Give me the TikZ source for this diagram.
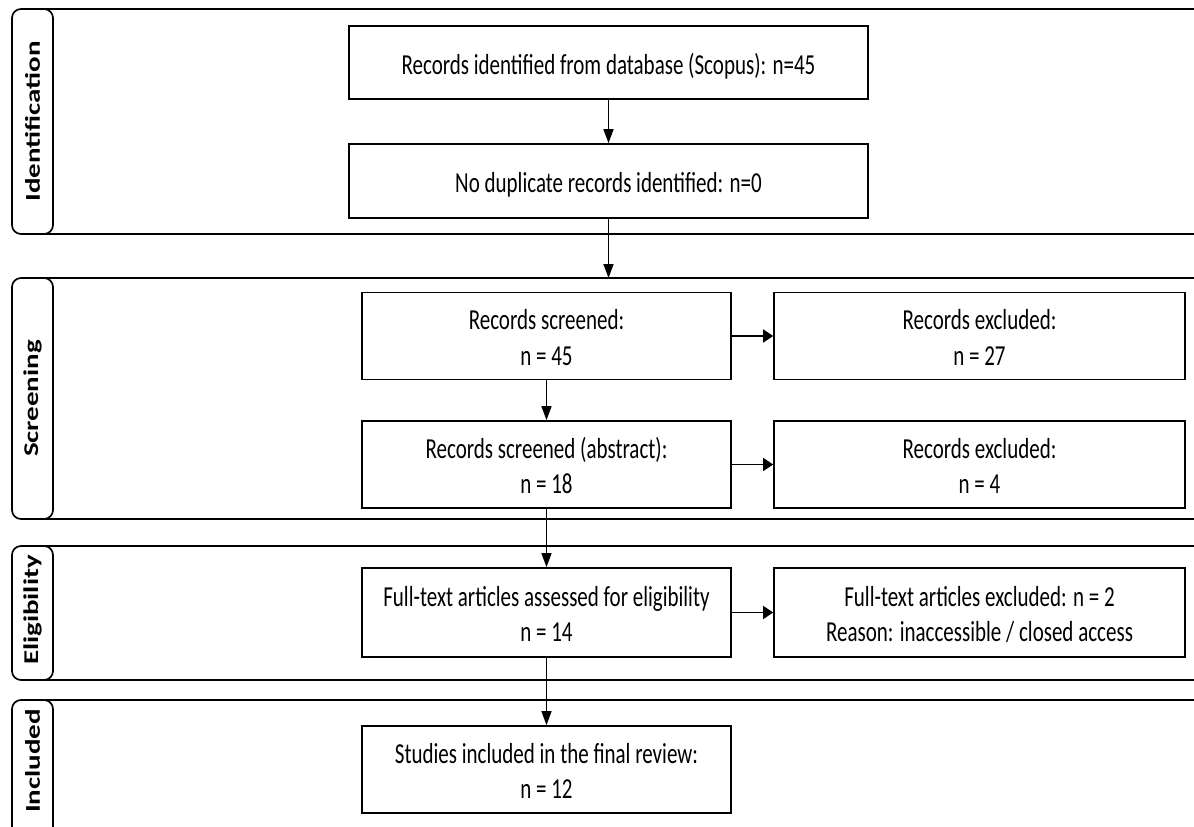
\documentclass[tikz,border=0pt]{standalone}
\usepackage{fontspec}
\usepackage{graphicx}
\setmainfont{Carlito}
\usetikzlibrary{arrows.meta}

\newcommand{\tall}[1]{\scalebox{1}[1.38]{\raisebox{-3.3pt}[\height][\depth]{\begin{tabular}{@{}c@{}}#1\end{tabular}}}}
\newcommand{\tabtext}[1]{\scalebox{1.38}[1]{\bfseries #1}}

\begin{document}
\begin{tikzpicture}[x=1pt, y=-1pt,
    box/.style={draw, line width=1.7pt, inner sep=0pt, font={\fontsize{21}{25.6}\selectfont}},
    wide/.style={box, minimum width=519pt},
    mid/.style={box, minimum width=369pt, minimum height=87pt},
    side/.style={box, minimum width=411pt, minimum height=87pt},
    tab/.style={draw, line width=1.7pt, rounded corners=9pt},
    band/.style={line width=2pt},
    lbl/.style={rotate=90, font={\fontsize{21}{25.6}\selectfont}},
    vflow/.style={line width=1.4pt, -{Triangle[length=14pt,width=10pt]}},
    hflow/.style={line width=1.4pt, -{Triangle[length=10pt,width=13pt]}}]
    \clip (0,0) rectangle (1194,827);

    \draw[band] (45,9) -- (1194,9) (45,234) -- (1194,234);
    \draw[tab] (12,9) rectangle (53,234);
    \node[lbl] (lident) at (32.5,121.5) {\tabtext{Identification}};

    \draw[band] (45,278) -- (1194,278) (45,519) -- (1194,519);
    \draw[tab] (12,278) rectangle (53,519);
    \node[lbl] (lscreen) at (32.5,398.5) {\tabtext{Screening}};

    \draw[band] (45,546) -- (1194,546) (45,680) -- (1194,680);
    \draw[tab] (12,546) rectangle (53,680);
    \node[lbl] (lelig) at (32.5,610) {\tabtext{Eligibility}};

    \draw[band] (45,700) -- (1194,700);
    \draw[tab] (12,700) rectangle (53,845);
    \node[lbl] (lincl) at (32.5,761) {\tabtext{Included}};

    \node[wide, minimum height=73pt] (ident) at (608.5,62.5) {\tall{Records identified from database (Scopus): n=45}};
    \node[wide, minimum height=74pt] (dup) at (608.5,181) {\tall{No duplicate records identified: n=0}};
    \coordinate (scrtop) at (608.5,278);

    \node[mid] (scr) at (546.5,336) {\tall{Records screened:\\ n = 45}};
    \node[side] (exc) at (979.5,336) {\tall{Records excluded:\\ n = 27}};
    \node[mid] (abs) at (546.5,464.5) {\tall{Records screened (abstract):\\ n = 18}};
    \node[side] (excabs) at (979.5,464.5) {\tall{Records excluded:\\ n = 4}};
    \node[mid, minimum height=89pt] (full) at (546.5,612.5) {\tall{Full-text articles assessed for eligibility\\ n = 14}};
    \node[side, minimum height=89pt] (excfull) at (979.5,612.5) {\tall{Full-text articles excluded: n = 2\\ Reason: inaccessible / closed access}};
    \node[mid] (incl) at (546.5,769.5) {\tall{Studies included in the final review:\\ n = 12}};

    \draw[vflow] (ident) -- (dup);
    \draw[vflow] (dup) -- (scrtop);
    \draw[vflow] (scr) -- (abs);
    \draw[hflow] (scr) -- (exc);
    \draw[hflow] (abs) -- (excabs);
    \draw[vflow] (abs) -- (full);
    \draw[hflow] (full) -- (excfull);
    \draw[vflow] (full) -- (incl);
\end{tikzpicture}
\end{document}
